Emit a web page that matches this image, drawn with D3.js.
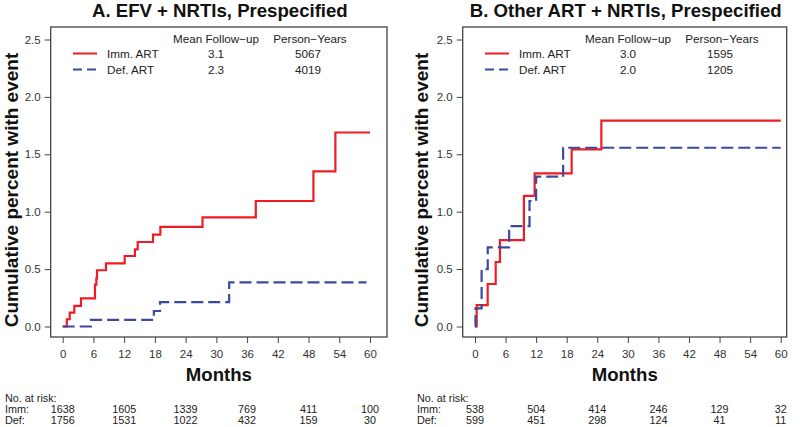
<!DOCTYPE html>
<html>
<head>
<meta charset="utf-8">
<script src="https://cdn.jsdelivr.net/npm/d3@7/dist/d3.min.js"></script>
<style>
  body { margin: 0; background: #fff; }
  svg { display: block; font-family: "Liberation Sans", Arial, sans-serif; }
</style>
</head>
<body>
<script>
'use strict'

// ---- data ----
const monthTicks = [0, 6, 12, 18, 24, 30, 36, 42, 48, 54, 60];
const pctTicks = [0, 0.5, 1, 1.5, 2, 2.5];
const riskMonths = [0, 12, 24, 36, 48, 60];
const groups = ['Imm. ART', 'Def. ART'];
const riskLabels = ['Imm:', 'Def:'];

// panel A: EFV + NRTIs
const aImmT = [0, 0.8, 1.37, 2.27, 3.57, 6.3, 6.57, 6.7, 8.45, 12.1, 14.1, 14.64, 17.64, 19.07, 27.3, 37.7, 48.95, 53.24, 60];
const aImmV = [0, 0.063, 0.12, 0.18, 0.245, 0.364, 0.42, 0.49, 0.55, 0.614, 0.672, 0.736, 0.80, 0.867, 0.951, 1.093, 1.352, 1.69, 1.69];
const aDefT = [0, 5.5, 17.8, 19.0, 32.5, 59.3];
const aDefV = [0, 0.057, 0.135, 0.213, 0.385, 0.385];
const aFollowUp = ['3.1', '2.3'];
const aPersonYears = ['5067', '4019'];
const aImmRisk = [1638, 1605, 1339, 769, 411, 100];
const aDefRisk = [1756, 1531, 1022, 432, 159, 30];

// panel B: Other ART + NRTIs
const bImmT = [0, 0.33, 2.49, 4.06, 4.9, 9.6, 11.7, 18.97, 24.8, 60];
const bImmV = [0, 0.187, 0.37, 0.562, 0.753, 1.137, 1.334, 1.543, 1.793, 1.793];
const bDefT = [0, 0.1, 1.3, 2.5, 6.7, 10.7, 12.0, 17.3, 60];
const bDefV = [0, 0.158, 0.5, 0.69, 0.875, 1.093, 1.305, 1.557, 1.557];
const bFollowUp = ['3.0', '2.0'];
const bPersonYears = ['1595', '1205'];
const bImmRisk = [538, 504, 414, 246, 129, 32];
const bDefRisk = [599, 451, 298, 124, 41, 11];

const RED = '#ee1c24';
const BLUE = '#3b4a9e';
const TXT = '#222';

const svg = d3.select('body').append('svg')
  .attr('width', 800).attr('height', 427);

const zip = (t, v) => t.map((d, i) => [d, v[i]]);

const panels = [
  { title: 'A. EFV + NRTIs, Prespecified', left: 50.7, right: 387, x0: 62.7, x60: 370, tx: 5, labX: 18,
    imm: zip(aImmT, aImmV), def: zip(aDefT, aDefV),
    fu: aFollowUp, py: aPersonYears, risk: [aImmRisk, aDefRisk] },
  { title: 'B. Other ART + NRTIs, Prespecified', left: 462.7, right: 786.7, x0: 475, x60: 780.7, tx: 417, labX: 428,
    imm: zip(bImmT, bImmV), def: zip(bDefT, bDefV),
    fu: bFollowUp, py: bPersonYears, risk: [bImmRisk, bDefRisk] }
];

const boxTop = 27, boxBottom = 337;
const y = d3.scaleLinear().domain([0, 2.5]).range([326.5, 39.5]);

panels.forEach(p => {
  const x = d3.scaleLinear().domain([0, 60]).range([p.x0, p.x60]);
  const g = svg.append('g');
  const mid = (p.left + p.right) / 2;

  // title
  g.append('text')
    .attr('x', mid + 1).attr('y', 17)
    .attr('text-anchor', 'middle')
    .style('font-weight', 'bold').style('font-size', '18.6px').attr('fill', '#111')
    .text(p.title);

  // box
  g.append('rect')
    .attr('x', p.left).attr('y', boxTop)
    .attr('width', p.right - p.left).attr('height', boxBottom - boxTop)
    .attr('fill', 'none').attr('stroke', '#444').attr('stroke-width', 1.3);

  // y axis
  const ya = g.append('g')
    .attr('transform', `translate(${p.left},0)`)
    .call(d3.axisLeft(y).tickValues(pctTicks).tickFormat(d3.format('.1f')).tickSize(6).tickPadding(4));
  ya.select('.domain').remove();
  ya.selectAll('line').attr('stroke', '#444');
  ya.selectAll('text').style('font-size', '11.5px').attr('fill', '#333')
    .style('font-family', '"Liberation Sans", Arial, sans-serif');

  // x axis
  const xa = g.append('g')
    .attr('transform', `translate(0,${boxBottom})`)
    .call(d3.axisBottom(x).tickValues(monthTicks).tickSize(6).tickPadding(7));
  xa.select('.domain').remove();
  xa.selectAll('line').attr('stroke', '#444');
  xa.selectAll('text').style('font-size', '11.5px').attr('fill', '#333')
    .style('font-family', '"Liberation Sans", Arial, sans-serif');

  // axis titles
  g.append('text')
    .attr('x', mid).attr('y', 381)
    .attr('text-anchor', 'middle')
    .style('font-weight', 'bold').style('font-size', '18.6px').attr('fill', '#111')
    .text('Months');
  g.append('text')
    .attr('transform', `translate(${p.labX},${(boxTop + boxBottom) / 2 + 8}) rotate(-90)`)
    .attr('text-anchor', 'middle')
    .style('font-weight', 'bold').style('font-size', '19px').attr('fill', '#111')
    .text('Cumulative percent with event');

  // curves
  const line = d3.line().x(d => x(d[0])).y(d => y(d[1])).curve(d3.curveStepAfter);
  g.append('path').datum(p.imm)
    .attr('d', line).attr('fill', 'none')
    .attr('stroke', RED).attr('stroke-width', 2.2);
  g.append('path').datum(p.def)
    .attr('d', line).attr('fill', 'none')
    .attr('stroke', BLUE).attr('stroke-width', 2.2).attr('stroke-dasharray', '12,5');

  // legend
  const lg = g.append('g').style('font-size', '11.7px').attr('fill', TXT);
  const colFu = p.left + 165.3, colPy = p.left + 259.3;
  lg.append('text').attr('x', colFu).attr('y', 43).attr('text-anchor', 'middle').text('Mean Follow\u2212up');
  lg.append('text').attr('x', colPy).attr('y', 43).attr('text-anchor', 'middle').text('Person\u2212Years');
  groups.forEach((name, i) => {
    const ly = 53.5 + i * 16;
    lg.append('line')
      .attr('x1', p.left + 22.3).attr('x2', p.left + 46.3)
      .attr('y1', ly).attr('y2', ly)
      .attr('stroke', i === 0 ? RED : BLUE).attr('stroke-width', 2)
      .attr('stroke-dasharray', i === 0 ? null : '9,5');
    lg.append('text').attr('x', p.left + 56.3).attr('y', ly + 4.5).text(name);
    lg.append('text').attr('x', colFu).attr('y', ly + 4.5).attr('text-anchor', 'middle').text(p.fu[i]);
    lg.append('text').attr('x', colPy - 2).attr('y', ly + 4.5).attr('text-anchor', 'middle').text(p.py[i]);
  });

  // number at risk
  const rt = g.append('g').style('font-size', '10.8px').attr('fill', TXT);
  rt.append('text').attr('x', p.tx).attr('y', 402).text('No. at risk:');
  p.risk.forEach((row, i) => {
    const ry = 413 + i * 11;
    rt.append('text').attr('x', p.tx).attr('y', ry).text(riskLabels[i]);
    rt.selectAll(null).data(row).enter().append('text')
      .attr('x', (d, j) => x(riskMonths[j]))
      .attr('y', ry)
      .attr('text-anchor', 'middle')
      .text(d => d);
  });
});
</script>
</body>
</html>
